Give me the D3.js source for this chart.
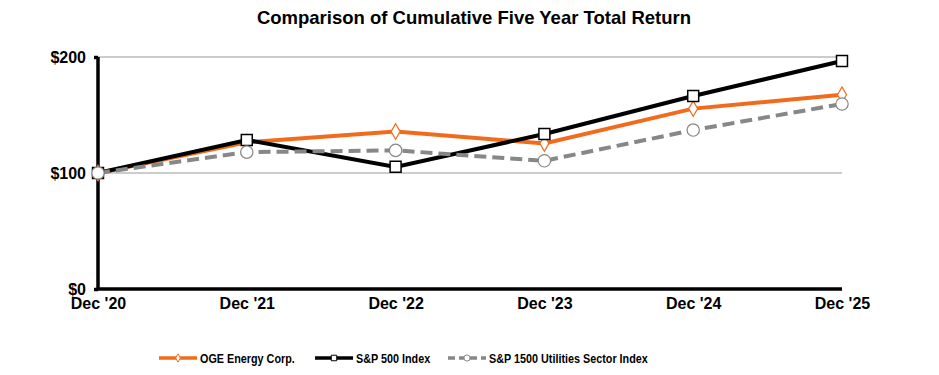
<!DOCTYPE html>
<html lang="en">
<head>
  <meta charset="UTF-8">
  <title>Comparison of Cumulative Five Year Total Return</title>
  <script src="https://cdn.jsdelivr.net/npm/d3@7"></script>
  <style>
    body { margin: 0; background: #fff; }
    text { font-family: "Liberation Sans", Arial, sans-serif; font-weight: bold; }
  </style>
</head>
<body>
  <svg width="939" height="375"></svg>
<script>
  const years = ["Dec '20", "Dec '21", "Dec '22", "Dec '23", "Dec '24", "Dec '25"];
  const oge = [100, 126.5, 135.7, 125.5, 155.5, 167.5];
  const sp500 = [100, 128.5, 105.3, 133.6, 166.4, 196.5];
  const utilities = [100, 118, 119.5, 110.5, 137, 159.5];
  const yTicks = [0, 100, 200];

  const svg = d3.select("svg");
  const margin = { left: 98, top: 57, right: 97, bottom: 86 };
  const innerWidth = 939 - margin.left - margin.right;
  const innerHeight = 375 - margin.top - margin.bottom;

  const g = svg.append("g")
    .attr("transform", "translate(" + margin.left + "," + margin.top + ")");

  svg.append("text")
    .attr("x", 474)
    .attr("y", 24)
    .attr("text-anchor", "middle")
    .attr("font-size", "18.5px")
    .text("Comparison of Cumulative Five Year Total Return");

  const xScale = d3.scalePoint().domain(years).range([0, innerWidth]);
  const yScale = d3.scaleLinear().domain([0, 200]).range([innerHeight, 0]);

  // gridlines
  g.append("g")
    .selectAll("line")
    .data(yTicks.filter(d => d > 0))
    .join("line")
    .attr("x1", 0)
    .attr("x2", innerWidth)
    .attr("y1", d => yScale(d))
    .attr("y2", d => yScale(d))
    .attr("stroke", "#999")
    .attr("stroke-width", 1);

  // y axis
  const yAxis = g.append("g")
    .call(d3.axisLeft(yScale).tickValues(yTicks).tickSize(4).tickPadding(8).tickFormat(d => "$" + d));
  yAxis.select(".domain").attr("stroke", "#000").attr("stroke-width", 3.5).attr("d", "M0," + innerHeight + "V0");
  yAxis.selectAll(".tick line").attr("stroke", "#000").attr("stroke-width", 3.5);
  yAxis.selectAll(".tick text").attr("font-size", "16px").attr("fill", "#000").attr("dy", "0.35em");

  // x axis
  const xAxis = g.append("g")
    .attr("transform", "translate(0," + innerHeight + ")")
    .call(d3.axisBottom(xScale).tickSize(0).tickPadding(9));
  xAxis.select(".domain").attr("stroke", "#000").attr("stroke-width", 3.5).attr("d", "M0,0H" + innerWidth);
  xAxis.selectAll(".tick text").attr("font-size", "16px").attr("fill", "#000");

  const series = [
    { name: "OGE Energy Corp.", values: oge, color: "#f26b1d", dash: null, marker: "diamond" },
    { name: "S&P 500 Index", values: sp500, color: "#000000", dash: null, marker: "square" },
    { name: "S&P 1500 Utilities Sector Index", values: utilities, color: "#878787", dash: "12,6", marker: "circle" }
  ];

  const line = d3.line()
    .x((d, i) => xScale(years[i]))
    .y(d => yScale(d));

  const symbols = { diamond: d3.symbolDiamond, square: d3.symbolSquare, circle: d3.symbolCircle };
  const sizes = { diamond: 70, square: 120, circle: 120 };

  series.forEach(s => {
    g.append("path")
      .datum(s.values)
      .attr("fill", "none")
      .attr("stroke", s.color)
      .attr("stroke-width", 4)
      .attr("stroke-dasharray", s.dash)
      .attr("d", line);
  });

  series.forEach(s => {
    g.append("g")
      .selectAll("path")
      .data(s.values)
      .join("path")
      .attr("transform", (d, i) => "translate(" + xScale(years[i]) + "," + yScale(d) + ")")
      .attr("d", d3.symbol().type(symbols[s.marker]).size(sizes[s.marker]))
      .attr("fill", "#fff")
      .attr("stroke", s.color)
      .attr("stroke-width", s.marker === "square" ? 1.5 : 1.2);
  });

  // legend
  const legendX = [159, 315, 448];
  const legend = svg.append("g").attr("transform", "translate(0,358)");
  series.forEach((s, i) => {
    const lg = legend.append("g").attr("transform", "translate(" + legendX[i] + ",0)");
    lg.append("line")
      .attr("x1", 0).attr("x2", 38)
      .attr("stroke", s.color)
      .attr("stroke-width", 3.5)
      .attr("stroke-dasharray", s.dash ? "7,4" : null);
    lg.append("path")
      .attr("transform", "translate(19,0)")
      .attr("d", d3.symbol().type(symbols[s.marker]).size(s.marker === "diamond" ? 20 : 30))
      .attr("fill", "#fff")
      .attr("stroke", s.color)
      .attr("stroke-width", 1);
    lg.append("text")
      .attr("transform", "translate(41,0) scale(0.8,1)")
      .attr("dy", "0.35em")
      .attr("font-size", "13.5px")
      .text(s.name);
  });
</script>
</body>
</html>
